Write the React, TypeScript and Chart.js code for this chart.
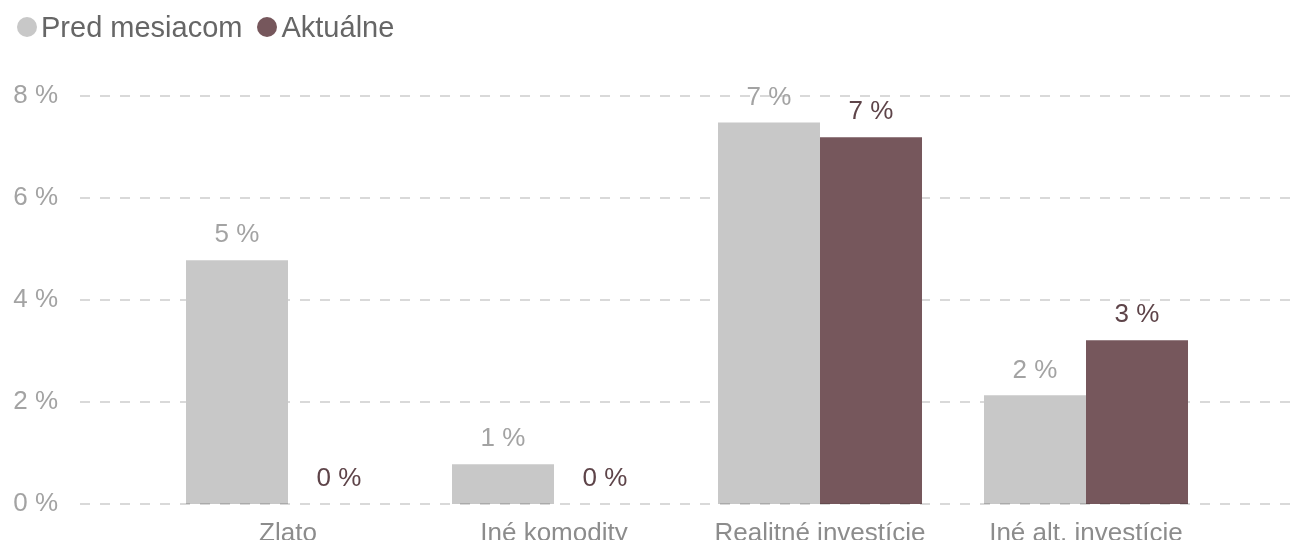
import React, { useEffect, useRef } from 'react';
import { Chart, registerables } from 'chart.js';

Chart.register(...registerables);

const categories = ['Zlato', 'Iné komodity', 'Realitné investície', 'Iné alt. investície'];
const prevValues = [4.78, 0.78, 7.48, 2.13];
const currentValues = [0, 0, 7.19, 3.21];
const seriesNames = ['Pred mesiacom', 'Aktuálne'];
const yTicks = [0, 2, 4, 6, 8];

const FONT = '"Liberation Sans", Arial, sans-serif';
const barColors = ['#c8c8c8', '#76575c'];
const labelColors = ['#a3a3a3', '#5e4449'];
const GRID_COLOR = 'rgba(0, 0, 0, 0.15)';

const drawGridLine = (ctx: CanvasRenderingContext2D, py: number) => {
  ctx.save();
  ctx.strokeStyle = GRID_COLOR;
  ctx.lineWidth = 2;
  ctx.setLineDash([10, 10]);
  ctx.beginPath();
  ctx.moveTo(80, py);
  ctx.lineTo(1292, py);
  ctx.stroke();
  ctx.restore();
};

// dashed horizontal lines, a bit wider than the plot area; the zero line goes over the bars
const dashedGrid = {
  id: 'dashedGrid',
  beforeDatasetsDraw(chart: any) {
    const y = chart.scales.y;
    y.ticks.forEach((t: any) => {
      if (t.value === 0) return;
      drawGridLine(chart.ctx, Math.round(y.getPixelForValue(t.value)));
    });
  },
  afterDatasetsDraw(chart: any) {
    const y = chart.scales.y;
    drawGridLine(chart.ctx, Math.round(y.getPixelForValue(0)));
  },
};

const valueLabels = {
  id: 'valueLabels',
  afterDatasetsDraw(chart: any) {
    const { ctx } = chart;
    ctx.save();
    ctx.font = `26px ${FONT}`;
    ctx.textAlign = 'center';
    ctx.textBaseline = 'middle';
    chart.data.datasets.forEach((ds: any, di: number) => {
      const meta = chart.getDatasetMeta(di);
      ctx.fillStyle = labelColors[di];
      meta.data.forEach((bar: any, i: number) => {
        const v = ds.data[i] as number;
        ctx.fillText(`${Math.round(v)} %`, bar.x, bar.y - 25);
      });
    });
    ctx.restore();
  },
};

const App: React.FC = () => {
  const canvasRef = useRef<HTMLCanvasElement>(null);
  const chartRef = useRef<Chart | null>(null);

  useEffect(() => {
    if (!canvasRef.current) return;
    if (chartRef.current) chartRef.current.destroy();

    chartRef.current = new Chart(canvasRef.current, {
      type: 'bar',
      data: {
        labels: categories,
        datasets: [
          {
            label: seriesNames[0],
            data: prevValues,
            backgroundColor: barColors[0],
            barPercentage: 1,
            categoryPercentage: 0.767,
          },
          {
            label: seriesNames[1],
            data: currentValues,
            backgroundColor: barColors[1],
            barPercentage: 1,
            categoryPercentage: 0.767,
          },
        ],
      },
      options: {
        responsive: true,
        maintainAspectRatio: false,
        animation: false,
        layout: { padding: { top: 96, right: 76, left: 0, bottom: 0 } },
        plugins: {
          legend: { display: false },
          tooltip: { enabled: false },
        },
        scales: {
          x: {
            grid: { display: false },
            border: { display: false },
            ticks: {
              color: '#8c8c8c',
              font: { family: FONT, size: 26 },
              padding: 6,
              maxRotation: 0,
            },
            afterFit: (scale: any) => {
              scale.height = 36;
            },
          },
          y: {
            min: 0,
            max: 8,
            grid: { display: false, drawTicks: false },
            border: { display: false },
            afterBuildTicks: (scale: any) => {
              scale.ticks = yTicks.map((v) => ({ value: v }));
            },
            ticks: {
              color: '#a3a3a3',
              font: { family: FONT, size: 26 },
              padding: 97,
              callback: (v: any) => `${v} %`,
            },
            afterFit: (scale: any) => {
              // big tick padding only pushes labels left, keep it out of the vertical layout
              scale.width = 155;
              scale.paddingTop = 0;
              scale.paddingBottom = 0;
            },
          },
        },
      },
      plugins: [dashedGrid, valueLabels],
    });

    return () => {
      if (chartRef.current) {
        chartRef.current.destroy();
        chartRef.current = null;
      }
    };
  }, []);

  return (
    <div style={{ position: 'fixed', left: 0, top: 0, width: 1295, height: 540, background: '#fff' }}>
      <div
        style={{
          position: 'absolute',
          left: 17,
          top: 10,
          display: 'flex',
          alignItems: 'center',
          fontFamily: FONT,
          fontSize: 29,
          color: '#666',
          lineHeight: '34px',
          zIndex: 1,
        }}
      >
        {seriesNames.map((name, i) => (
          <div key={name} style={{ display: 'flex', alignItems: 'center', marginRight: 15 }}>
            <span
              style={{
                display: 'inline-block',
                width: 20,
                height: 20,
                borderRadius: '50%',
                background: barColors[i],
                marginRight: 4,
              }}
            />
            <span>{name}</span>
          </div>
        ))}
      </div>
      <div style={{ position: 'absolute', left: 0, top: 0, width: 1295, height: 540 }}>
        <canvas ref={canvasRef} />
      </div>
    </div>
  );
};

export default App;
